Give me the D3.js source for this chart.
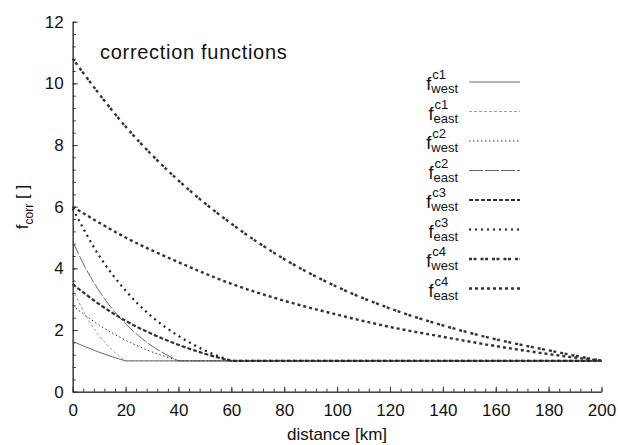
<!DOCTYPE html>
<html>
<head>
<meta charset="utf-8">
<title>correction functions</title>
<script src="https://cdn.jsdelivr.net/npm/d3@7"></script>
<style>
  body { margin: 0; background: #fff; }
  text { font-family: "Liberation Sans", Helvetica, Arial, sans-serif; fill: #111; }
  .axis path, .axis line { stroke: #333; stroke-width: 1; }
  .axis text { font-size: 17px; }
  .curve { fill: none; }
</style>
</head>
<body>
<script>
// distances [km] and f_corr values
var distC1 = [0, 5, 10, 15, 20];
var c1West = [1.63, 1.45, 1.28, 1.13, 1.0];
var c1East = [3.33, 2.46, 1.82, 1.35, 1.0];

var distC2 = [0, 5, 10, 15, 20, 25, 30, 35, 40];
var c2West = [2.79, 2.46, 2.16, 1.90, 1.67, 1.47, 1.29, 1.14, 1.0];
var c2East = [4.87, 3.99, 3.27, 2.68, 2.20, 1.81, 1.48, 1.22, 1.0];

var distC3 = [0, 10, 20, 30, 40, 50, 60];
var c3West = [3.49, 2.84, 2.30, 1.87, 1.52, 1.23, 1.0];
var c3East = [5.94, 4.41, 3.28, 2.43, 1.81, 1.34, 1.0];

var distC4 = [0, 20, 40, 60, 80, 100, 120, 140, 160, 180, 200];
var c4West = [10.8, 8.6, 6.85, 5.45, 4.3, 3.4, 2.7, 2.15, 1.7, 1.34, 1.0];
var c4East = [6.0, 5.0, 4.2, 3.5, 2.95, 2.5, 2.1, 1.78, 1.48, 1.22, 1.0];

var xTicks = [0, 20, 40, 60, 80, 100, 120, 140, 160, 180, 200];
var yTicks = [0, 2, 4, 6, 8, 10, 12];

var series = [
  {c: "c1", side: "west", dist: distC1, vals: c1West, width: 0.8, color: "#444", dash: null},
  {c: "c1", side: "east", dist: distC1, vals: c1East, width: 0.8, color: "#888", dash: "3,2"},
  {c: "c2", side: "west", dist: distC2, vals: c2West, width: 1, color: "#333", dash: "1.5,2.5"},
  {c: "c2", side: "east", dist: distC2, vals: c2East, width: 0.9, color: "#555", dash: "14,2"},
  {c: "c3", side: "west", dist: distC3, vals: c3West, width: 2.2, color: "#333", dash: "4,2"},
  {c: "c3", side: "east", dist: distC3, vals: c3East, width: 2.2, color: "#222", dash: "2,4"},
  {c: "c4", side: "west", dist: distC4, vals: c4West, width: 2.4, color: "#333", dash: "3,1.5,3,4"},
  {c: "c4", side: "east", dist: distC4, vals: c4East, width: 2.4, color: "#333", dash: "3,3"}
];

var width = 618, height = 445;
var svg = d3.select("body").append("svg")
  .attr("width", width)
  .attr("height", height);

var x = d3.scaleLinear().domain([0, 200]).range([72.7, 601.5]);
var y = d3.scaleLinear().domain([0, 12]).range([391.7, 21.7]);

// minor ticks (5 per major interval)
svg.append("g").attr("class", "axis")
  .attr("transform", "translate(0," + y(0) + ")")
  .call(d3.axisBottom(x).tickValues(d3.range(0, 201, 4)).tickSize(-3).tickSizeOuter(0).tickFormat(""));
svg.append("g").attr("class", "axis")
  .attr("transform", "translate(" + x(0) + ",0)")
  .call(d3.axisLeft(y).tickValues(d3.range(0, 12.01, 0.4)).tickSize(-3).tickSizeOuter(0).tickFormat(""));

// major ticks
svg.append("g").attr("class", "axis")
  .attr("transform", "translate(0," + y(0) + ")")
  .call(d3.axisBottom(x).tickValues(xTicks).tickSize(-5).tickSizeOuter(0).tickPadding(12));
svg.append("g").attr("class", "axis")
  .attr("transform", "translate(" + x(0) + ",0)")
  .call(d3.axisLeft(y).tickValues(yTicks).tickSize(-5).tickSizeOuter(0).tickPadding(9));
svg.selectAll(".axis .domain").attr("stroke-width", 1.2);

// axis titles
svg.append("text")
  .attr("x", 337).attr("y", 440)
  .attr("text-anchor", "middle")
  .style("font-size", "17px")
  .text("distance [km]");

var yl = svg.append("text")
  .attr("transform", "translate(28,207) rotate(-90)")
  .attr("text-anchor", "middle")
  .style("font-size", "17px");
yl.append("tspan").text("f");
yl.append("tspan").attr("dy", 5).style("font-size", "12px").text("corr");
yl.append("tspan").attr("dy", -5).text(" [ ]");

svg.append("text")
  .attr("x", 100).attr("y", 59)
  .style("font-size", "20px")
  .style("letter-spacing", "0.7px")
  .text("correction functions");

// curves: decay part smoothed, then flat at 1 up to 200 km
var line = d3.line()
  .x(function(d) { return x(d[0]); })
  .y(function(d) { return y(d[1]); })
  .curve(d3.curveMonotoneX);

series.forEach(function(s) {
  var pts = s.dist.map(function(d, i) { return [d, s.vals[i]]; });
  var last = pts[pts.length - 1];
  var dstr = line(pts);
  if (last[0] < 200) dstr += "L" + x(200) + "," + y(last[1]);
  svg.append("path")
    .attr("class", "curve")
    .attr("d", dstr)
    .attr("stroke", s.color)
    .attr("stroke-width", s.width)
    .attr("stroke-dasharray", s.dash);
});

// legend: f with stacked superscript / subscript, right aligned
var legRight = 458;
series.forEach(function(s, i) {
  var ry = 82 + i * 29.5;
  var g = svg.append("g");
  var sub = g.append("text")
    .attr("x", legRight).attr("y", ry + 11)
    .attr("text-anchor", "end")
    .style("font-size", "13px")
    .text(s.side);
  var w = sub.node().getComputedTextLength();
  g.append("text")
    .attr("x", legRight - w).attr("y", ry + 8)
    .attr("text-anchor", "end")
    .style("font-size", "18px")
    .text("f");
  g.append("text")
    .attr("x", legRight - w + 1).attr("y", ry - 3)
    .style("font-size", "13px")
    .text(s.c);
  g.append("line")
    .attr("x1", 469).attr("x2", 520)
    .attr("y1", ry).attr("y2", ry)
    .attr("stroke", s.color)
    .attr("stroke-width", s.width)
    .attr("stroke-dasharray", s.dash);
});
</script>
</body>
</html>
